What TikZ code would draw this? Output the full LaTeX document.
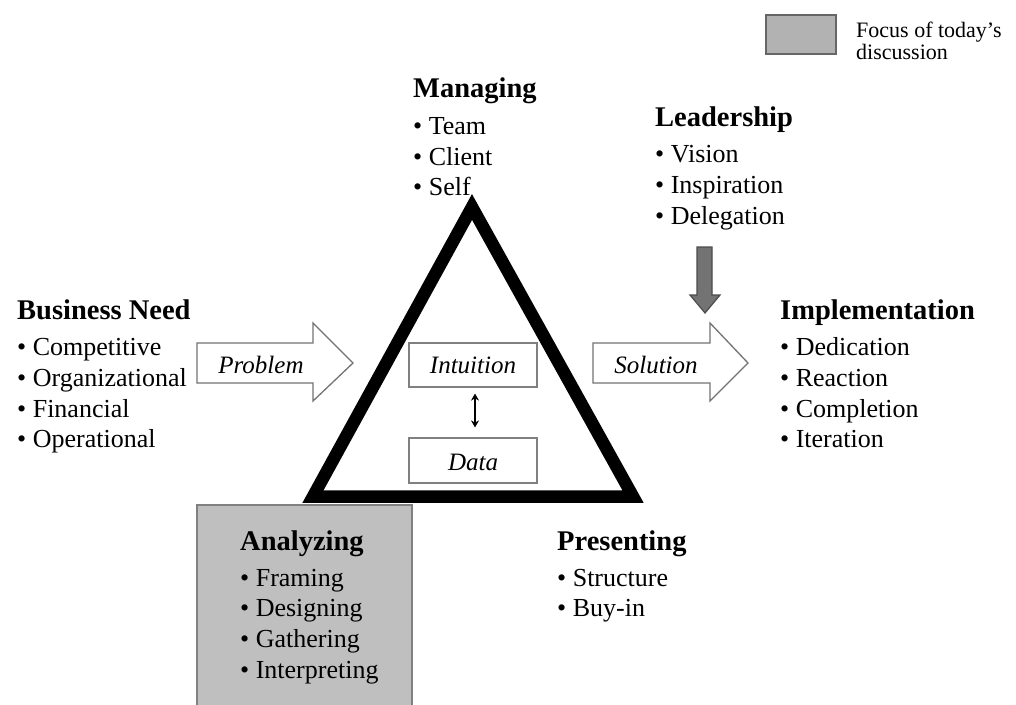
\documentclass[tikz,border=0pt]{standalone}
\usepackage{fontspec}
\setmainfont{Liberation Serif}
\usetikzlibrary{arrows.meta}
\begin{document}
\begin{tikzpicture}[x=1pt,y=-1pt,
  hd/.style={anchor=base west,inner sep=0pt,font=\fontsize{28.5}{31}\selectfont\bfseries},
  it/.style={anchor=base west,inner sep=0pt,font=\fontsize{26}{31}\selectfont},
  lg/.style={anchor=base west,inner sep=0pt,font=\fontsize{22}{24}\selectfont},
  lab/.style={inner sep=0pt,font=\fontsize{25}{28}\selectfont\itshape},
  fatarrow/.style={draw=black!55,line width=1.3pt,fill=white,line join=miter},
  ibox/.style={draw=black!50,line width=1.2pt,fill=white}]
\useasboundingbox (0,0) rectangle (1016,704);
\fill[white] (0,0) rectangle (1016,704);

% legend
\draw[draw=black!60,line width=1.5pt,fill=black!30] (766,15) rectangle (836,54);
\node[lg] (lg1) at (856,37) {Focus of today's};
\node[lg] (lg2) at (856,59) {discussion};

% analyzing box
\draw[draw=black!50,line width=1.5pt,fill=black!25] (197,505) rectangle (412,710);

% triangle
\draw[line width=12.5pt,line join=miter,miter limit=10] (472,207) -- (633,496.5) -- (313,496.5) -- cycle;

% inner boxes
\node[ibox,minimum width=128pt,minimum height=44pt,inner sep=0pt] (intu) at (473,365) {};
\node[lab] (intut) at (473,365) {Intuition};
\node[ibox,minimum width=128pt,minimum height=45pt,inner sep=0pt] (data) at (473,460.5) {};
\node[lab] (datat) at (473,462) {Data};
\draw[{Stealth[length=7pt,width=8pt]}-{Stealth[length=7pt,width=8pt]},line width=1.2pt,shorten <=6pt,shorten >=10pt] ([xshift=2pt]intu.south) -- ([xshift=2pt]data.north);

% problem arrow
\draw[fatarrow] (197,343) -- (313,343) -- (313,323) -- (353,363) -- (313,401) -- (313,383) -- (197,383) -- cycle;
\node[lab] (prob) at (261,365) {Problem};
% solution arrow
\draw[fatarrow] (593,343) -- (710,343) -- (710,323) -- (748,363) -- (710,401) -- (710,383) -- (593,383) -- cycle;
\node[lab] (sol) at (656,365) {Solution};

% leadership down arrow
\draw[draw=black!70,line width=1.2pt,fill=black!55,line join=miter] (697,247) -- (712,247) -- (712,295) -- (720,295) -- (705,313) -- (690,295) -- (697,295) -- cycle;

% Managing
\node[hd] (man) at (413,97) {Managing};
\node[it] (man1) at (413,134) {\textbullet\ Team};
\node[it] (man2) at (413,165) {\textbullet\ Client};
\node[it] (man3) at (413,195) {\textbullet\ Self};

% Leadership
\node[hd] (lead) at (655,126) {Leadership};
\node[it] (lead1) at (655,162) {\textbullet\ Vision};
\node[it] (lead2) at (655,193) {\textbullet\ Inspiration};
\node[it] (lead3) at (655,224) {\textbullet\ Delegation};

% Business need
\node[hd] (bn) at (17,319) {Business Need};
\node[it] (bn1) at (17,355) {\textbullet\ Competitive};
\node[it] (bn2) at (17,386) {\textbullet\ Organizational};
\node[it] (bn3) at (17,417) {\textbullet\ Financial};
\node[it] (bn4) at (17,447) {\textbullet\ Operational};

% Implementation
\node[hd] (imp) at (780,319) {Implementation};
\node[it] (imp1) at (780,355) {\textbullet\ Dedication};
\node[it] (imp2) at (780,386) {\textbullet\ Reaction};
\node[it] (imp3) at (780,417) {\textbullet\ Completion};
\node[it] (imp4) at (780,447) {\textbullet\ Iteration};

% Analyzing
\node[hd] (ana) at (240,550) {Analyzing};
\node[it] (ana1) at (240,586) {\textbullet\ Framing};
\node[it] (ana2) at (240,616) {\textbullet\ Designing};
\node[it] (ana3) at (240,647) {\textbullet\ Gathering};
\node[it] (ana4) at (240,678) {\textbullet\ Interpreting};

% Presenting
\node[hd] (pre) at (557,550) {Presenting};
\node[it] (pre1) at (557,586) {\textbullet\ Structure};
\node[it] (pre2) at (557,616) {\textbullet\ Buy-in};
\end{tikzpicture}
\end{document}
